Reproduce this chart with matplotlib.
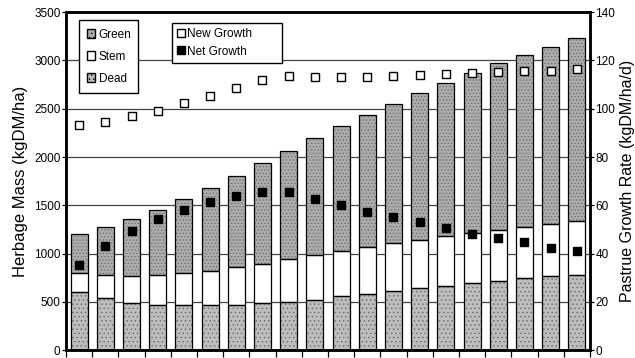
import numpy as np
import matplotlib.pyplot as plt
from matplotlib.patches import Patch
from matplotlib.lines import Line2D

plt.rcParams['font.family'] = ['Liberation Sans', 'DejaVu Sans']
plt.rcParams['hatch.linewidth'] = 0.5

# herbage mass components (kgDM/ha)
dead = [601, 535, 490, 470, 463, 463, 470, 483, 501, 521,
        556, 577, 608, 642, 666, 694, 718, 746, 763, 780]
stem_top = [798, 777, 770, 777, 794, 822, 860, 894, 940, 987,
            1029, 1067, 1108, 1143, 1178, 1218, 1246, 1274, 1308, 1333]
total = [1202, 1271, 1360, 1454, 1564, 1678, 1803, 1937, 2062, 2196,
         2320, 2435, 2548, 2659, 2763, 2866, 2970, 3056, 3142, 3232]
stem = [s - d for s, d in zip(stem_top, dead)]
green = [t - s for t, s in zip(total, stem_top)]

# growth rates (kgDM/ha/d)
new_growth = [93.2, 94.6, 96.9, 99.1, 102.2, 105.2, 108.4, 111.8, 113.5, 113.2,
              113.2, 113.2, 113.5, 113.9, 114.3, 114.9, 115.3, 115.6, 115.7, 116.4]
net_growth = [35.3, 43.2, 49.4, 54.3, 57.9, 61.2, 63.7, 65.6, 65.4, 62.7,
              60.2, 57.4, 55.1, 52.9, 50.5, 48.2, 46.4, 44.6, 42.5, 40.9]

x = np.arange(len(total))

fig = plt.figure(figsize=(6.35, 3.58), dpi=100)
ax = fig.add_axes([0.104, 0.022, 0.825, 0.944])
ax2 = ax.twinx()

green_col = '#acacac'
dead_col = '#bdbdbd'
w = 0.65


def stacked(vals, bottom, col, hatch):
    # grainy fill first, then a crisp black outline on top
    ax.bar(x, vals, w, bottom=bottom, color=col, edgecolor='#6a6a6a',
           linewidth=0, hatch=hatch, zorder=2)
    ax.bar(x, vals, w, bottom=bottom, fill=False, edgecolor='black',
           linewidth=0.9, zorder=3)


stacked(dead, 0, dead_col, '....')
stacked(stem, dead, 'white', None)
stacked(green, stem_top, green_col, '.....')

ax.set_ylim(0, 3500)
ax.set_xlim(-0.5, len(total) - 0.5)
ax.set_yticks(range(0, 3501, 500))
ax.yaxis.grid(True, color='#444444', linewidth=0.9, zorder=0)
ax.set_axisbelow(True)
ax.set_xticks(np.arange(-0.5, len(total), 1.0))
ax.set_xticklabels([])
ax.tick_params(axis='x', length=5, width=0.9, direction='out')
ax.tick_params(axis='y', length=3, width=0.9, labelsize=8.5, pad=1)
ax.set_ylabel('Herbage Mass (kgDM/ha)', fontsize=12, labelpad=4)

ax2.scatter(x, new_growth, marker='s', s=32, facecolor='white',
            edgecolor='black', linewidth=1.0, zorder=5)
ax2.scatter(x, net_growth, marker='s', s=32, facecolor='black',
            edgecolor='black', linewidth=1.0, zorder=5)
ax2.set_ylim(0, 140)
ax2.set_yticks(range(0, 141, 20))
ax2.tick_params(axis='y', length=3, width=0.9, labelsize=8.5, pad=1)
ax2.set_ylabel('Pastrue Growth Rate (kgDM/ha/d)', fontsize=11.5, labelpad=3)

for a in (ax, ax2):
    for sp in a.spines.values():
        sp.set_linewidth(1.8)

h1 = [Patch(facecolor=green_col, edgecolor='black', hatch='....', label='Green'),
      Patch(facecolor='white', edgecolor='black', label='Stem'),
      Patch(facecolor=dead_col, edgecolor='black', hatch='....', label='Dead')]
leg1 = ax.legend(handles=h1, loc='upper left',
                 bbox_to_anchor=(0.024, 0.5, 0.113, 0.476), mode='expand',
                 fontsize=8.5, frameon=True, fancybox=False, handlelength=0.7,
                 handleheight=0.7, handletextpad=0.3, labelspacing=0.85,
                 borderpad=0.7, borderaxespad=0)
leg1.get_frame().set_edgecolor('black')
leg1.get_frame().set_linewidth(1.0)
leg1.get_frame().set_alpha(1)

h2 = [Line2D([], [], marker='s', linestyle='none', markersize=6,
             markerfacecolor='white', markeredgecolor='black', label='New Growth'),
      Line2D([], [], marker='s', linestyle='none', markersize=6,
             markerfacecolor='black', markeredgecolor='black', label='Net Growth'),
      ]
leg2 = ax2.legend(handles=h2, loc='upper left',
                  bbox_to_anchor=(0.202, 0.5, 0.21, 0.468), mode='expand',
                  fontsize=8.5, frameon=True, fancybox=False, handlelength=0.6,
                  handletextpad=0.2, labelspacing=0.45, borderpad=0.45,
                  borderaxespad=0)
leg2.get_frame().set_edgecolor('black')
leg2.get_frame().set_linewidth(1.0)
leg2.get_frame().set_alpha(1)

fig.savefig('out.png', dpi=100)
